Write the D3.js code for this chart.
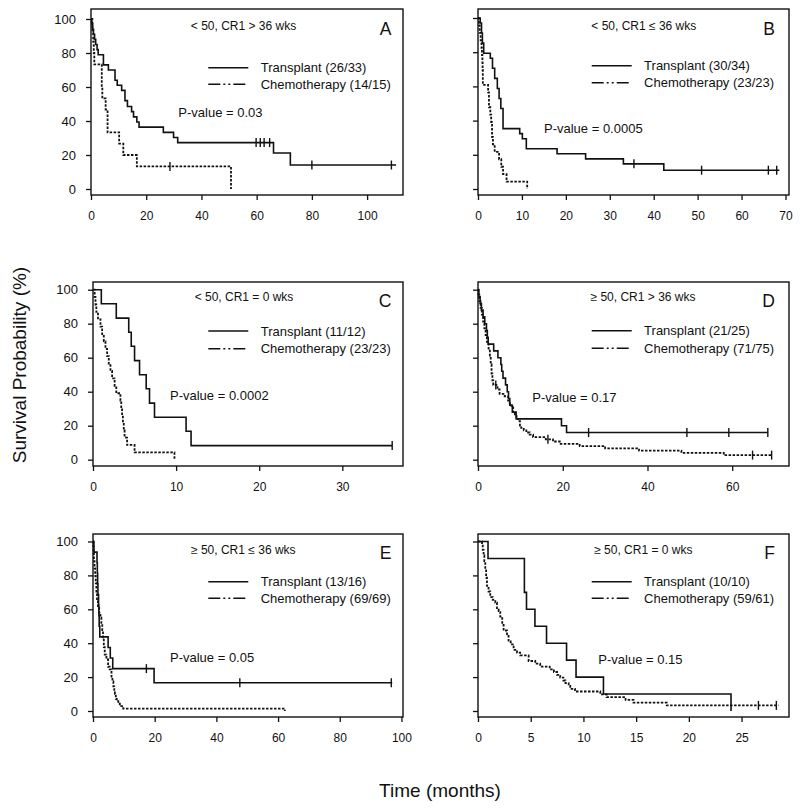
<!DOCTYPE html>
<html><head><meta charset="utf-8">
<script src="https://cdn.jsdelivr.net/npm/d3@7"></script>
<style>body{margin:0;background:#fff}svg{display:block}text{font-family:"Liberation Sans",Arial,sans-serif;fill:#111}</style>
</head><body><svg id="c" width="800" height="809"></svg>
<script>
// ---------- DATA (time in months, survival %) ----------
const panelIds = ["A","B","C","D","E","F"];
const panelTitles = ["< 50, CR1 > 36 wks","< 50, CR1 ≤ 36 wks","< 50, CR1 = 0 wks","≥ 50, CR1 > 36 wks","≥ 50, CR1 ≤ 36 wks","≥ 50, CR1 = 0 wks"];
const transplantLabels = ["Transplant (26/33)","Transplant (30/34)","Transplant (11/12)","Transplant (21/25)","Transplant (13/16)","Transplant (10/10)"];
const chemoLabels = ["Chemotherapy (14/15)","Chemotherapy (23/23)","Chemotherapy (23/23)","Chemotherapy (71/75)","Chemotherapy (69/69)","Chemotherapy (59/61)"];
const pValues = ["P-value = 0.03","P-value = 0.0005","P-value = 0.0002","P-value = 0.17","P-value = 0.05","P-value = 0.15"];
const xTicksA = [0,20,40,60,80,100], xTicksB = [0,10,20,30,40,50,60,70], xTicksC = [0,10,20,30];
const xTicksD = [0,20,40,60], xTicksE = [0,20,40,60,80,100], xTicksF = [0,5,10,15,20,25];
const yTicks = [0,20,40,60,80,100];

const transA = [[0,100],[0.3,97],[0.6,94],[0.9,91],[1.3,88],[1.7,85],[2.2,82],[2.6,79],[4.5,73],[6.3,70],[8.7,64],[9.5,61],[11.1,58],[12.3,52],[13.2,48.5],[14.7,45.5],[15.4,42.4],[16.6,39.4],[17.4,36.4],[26.2,33.3],[29.9,30.3],[31.4,27.3],[66.1,21.2],[72.2,14.1],[110.5,14.1]];
const transACens = [59.8,61.3,62.7,64.7,80,108.8];
const chemoA = [[0,100],[0.5,93.3],[0.8,86.7],[1.0,80],[1.2,73.3],[3.9,60],[4.1,53.3],[5.3,46.7],[6.0,33.3],[10.2,26.7],[11.7,20],[16.6,13.3],[50.7,0]];
const chemoACens = [28.6];

const transB = [[0,100],[0.5,97.1],[0.8,91.2],[1.0,85.3],[1.3,79.4],[2.8,76.5],[3.3,70.6],[3.8,64.7],[4.4,58.8],[4.8,52.9],[5.2,47.1],[5.7,35.3],[9.5,32.4],[10.1,29.4],[11.0,23.5],[18.0,20.6],[24.5,17.6],[33.1,14.7],[42.3,11.0],[68.6,11.0]];
const transBCens = [35.5,50.9,66.1,68.0];
const chemoB = [[0,100],[0.2,95.7],[0.4,91.3],[0.6,87],[0.8,82.6],[0.9,78.3],[1.0,73.9],[1.05,69.6],[1.1,60.9],[2.3,56.5],[2.5,47.8],[2.8,43.5],[3.0,39.1],[3.2,30.4],[3.4,26.1],[3.8,21.7],[4.8,17.4],[5.3,13],[5.7,8.7],[6.5,4.3],[11.2,0]];
const chemoBCens = [];

const transC = [[0,100],[1.0,91.7],[2.8,83.3],[4.3,75],[4.6,66.7],[5.0,58.3],[5.6,50],[6.4,41.7],[6.8,33.3],[7.4,25],[11.2,16.7],[11.8,8.3],[36,8.3]];
const transCCens = [36];
const chemoC = [[0,100],[0.2,95.7],[0.3,91.3],[0.4,87],[0.6,82.6],[0.9,78.3],[1.1,73.9],[1.3,69.6],[1.5,65.2],[1.7,60.9],[1.9,56.5],[2.1,52.2],[2.3,47.8],[2.6,43.5],[2.8,39.1],[3.3,34.8],[3.4,30.4],[3.5,26.1],[3.6,21.7],[3.7,17.4],[3.8,13],[4.1,8.7],[5.0,4.3],[9.8,0]];
const chemoCCens = [];

const transD = [[0,100],[0.2,96],[0.5,92],[0.8,88],[1.2,84],[1.6,80],[2.0,76],[2.2,72],[2.4,68],[3.7,64],[4.7,60],[5.4,56],[5.6,52],[5.9,48],[6.5,44],[6.9,40],[7.2,36],[7.5,32],[8.1,28],[9.0,24],[19.7,20],[20.9,16],[68.4,16]];
const transDCens = [26.1,49.3,59.2,68.4];
const chemoD = [[0,100],[0.1,97.3],[0.3,93.3],[0.6,89.3],[0.9,85.3],[1.2,81.3],[1.5,77.3],[1.8,73.3],[2.1,69.3],[2.5,65.3],[2.8,61.3],[3.0,56],[3.2,50.7],[3.4,46.7],[3.6,44],[4.6,41.3],[5.1,38.7],[6.3,37.3],[7.1,34.7],[7.5,32],[7.9,30.7],[8.3,28],[8.7,26.7],[9.1,24],[9.5,22.7],[9.9,20],[10.2,18.7],[10.8,17.3],[11.4,16],[12.2,14.7],[13.0,13.3],[16.0,12],[17.7,10.7],[19.3,9.3],[24,8.0],[30,6.7],[38,5.3],[48,4.0],[58,2.7],[69.3,2.7]];
const chemoDCens = [4.2,16.5,64.8,69.3];

const transE = [[0,100],[0.3,93.75],[1.3,87.5],[1.4,81.25],[1.5,75],[1.6,68.75],[1.8,62.5],[1.9,56.25],[2.0,50],[2.2,43.75],[4.9,37.5],[5.6,31.25],[6.4,25],[19.8,16.7],[97,16.7]];
const transECens = [17.3,47.6,96.7];
const chemoE = [[0,100],[0.1,97.1],[0.2,92.8],[0.3,88.4],[0.5,84.1],[0.7,79.7],[0.9,75.4],[1.1,69.6],[1.3,65.2],[1.6,60.9],[2.0,58.0],[2.4,55.1],[2.7,50.7],[3.0,47.8],[3.25,43.5],[3.5,37.7],[3.8,33.3],[4.35,30.4],[4.9,26.1],[5.4,24.6],[6.0,20.3],[6.3,17.4],[6.6,14.5],[6.9,11.6],[7.1,10.1],[7.4,7.2],[7.7,5.8],[8.2,4.3],[8.7,2.9],[9.8,1.45],[62.2,0]];
const chemoECens = [];

const transF = [[0,100],[0.95,90],[4.4,70],[4.6,60],[5.4,50],[6.5,40],[8.4,30],[9.3,20],[11.9,10],[24.0,0]];
const transFCens = [];
const chemoF = [[0,100],[0.38,98.4],[0.45,95.1],[0.53,91.8],[0.6,88.5],[0.69,83.6],[0.77,78.7],[0.85,73.8],[1.0,70.5],[1.16,67.2],[1.4,65.6],[1.64,63.9],[1.8,60.7],[1.96,59.0],[2.11,55.7],[2.3,50.8],[2.43,47.5],[2.75,44.3],[2.9,41.0],[3.1,39.3],[3.38,36.1],[3.7,34.4],[4.0,32.8],[4.8,29.5],[5.43,27.9],[5.9,26.2],[6.8,24.6],[7.2,23.0],[7.5,21.3],[7.8,19.7],[8.1,18.0],[8.3,16.4],[8.6,14.8],[8.75,13.1],[9.2,11.5],[11.6,9.8],[12.2,8.2],[14.0,6.6],[14.75,4.9],[17.9,3.3],[28.5,3.3]];
const chemoFCens = [26.6,28.3];

const xMax = [113, 70.8, 37.3, 73.4, 100.5, 29.5];
const xTickSets = [xTicksA, xTicksB, xTicksC, xTicksD, xTicksE, xTicksF];
const transSeries = [transA, transB, transC, transD, transE, transF];
const transCensors = [transACens, transBCens, transCCens, transDCens, transECens, transFCens];
const chemoSeries = [chemoA, chemoB, chemoC, chemoD, chemoE, chemoF];
const chemoCensors = [chemoACens, chemoBCens, chemoCCens, chemoDCens, chemoECens, chemoFCens];

// ---------- LAYOUT ----------
const layout = [
  {x0:91,  x1:403, top:9,   bottom:195, y0:189,   y100:19,  labels:true,  tx:243.5, ty:29.5,  lx:208.3, ly:[67.7,84.3],  px:178.3, py:116.8, lt:35},
  {x0:478, x1:789, top:9,   bottom:195, y0:189,   y100:18,  labels:false, tx:643.8, ty:29.5,  lx:591.7, ly:[65.7,82.7],  px:544,   py:132.8, lt:35},
  {x0:93,  x1:403, top:282, bottom:466, y0:459.7, y100:289.7,labels:true, tx:244,   ty:301,   lx:208.3, ly:[331,348.7],  px:170,   py:400.2, lt:306.7},
  {x0:478, x1:789, top:282, bottom:466, y0:459.7, y100:289.7,labels:false,tx:643,   ty:301,   lx:591.7, ly:[330.7,348.3],px:532.3, py:401.8, lt:306.7},
  {x0:93,  x1:403, top:534, bottom:717, y0:711,   y100:541.5,labels:true, tx:243.3, ty:553.5, lx:208.3, ly:[581.7,598.3],px:170,   py:661.8, lt:559.3},
  {x0:478, x1:789, top:534, bottom:717, y0:711,   y100:541.5,labels:false,tx:643.3, ty:553.5, lx:591.7, ly:[581.7,598.3],px:598.3, py:663.5, lt:559.3}
];

const svg = d3.select("#c");

function levelAt(series, t){
  let v = series[0][1];
  for (const d of series){ if (d[0] <= t) v = d[1]; else break; }
  return v;
}

panelIds.forEach((id, i) => {
  const L = layout[i];
  const g = svg.append("g");
  const x = d3.scaleLinear().domain([0, xMax[i]]).range([L.x0, L.x1]);
  const y = d3.scaleLinear().domain([0, 100]).range([L.y0, L.y100]);

  // frame
  g.append("rect").attr("x", L.x0).attr("y", L.top).attr("width", L.x1 - L.x0).attr("height", L.bottom - L.top)
    .attr("fill", "none").attr("stroke", "#111").attr("stroke-width", 1.4);

  // y axis
  const ya = d3.axisLeft(y).tickValues(yTicks).tickSize(5).tickPadding(10).tickSizeOuter(0);
  if (!L.labels) ya.tickFormat("");
  const yg = g.append("g").attr("transform", `translate(${L.x0},0)`).call(ya);
  yg.select(".domain").remove();
  yg.selectAll("line").attr("stroke", "#111").attr("stroke-width", 1.3);
  yg.selectAll("text").attr("font-size", 13).attr("font-family", '"Liberation Sans",Arial,sans-serif').attr("fill", "#111");

  // x axis
  const xa = d3.axisBottom(x).tickValues(xTickSets[i]).tickSize(5).tickPadding(11).tickSizeOuter(0);
  const xg = g.append("g").attr("transform", `translate(0,${L.bottom})`).call(xa);
  xg.select(".domain").remove();
  xg.selectAll("line").attr("stroke", "#111").attr("stroke-width", 1.3);
  xg.selectAll("text").attr("font-size", 12).attr("font-family", '"Liberation Sans",Arial,sans-serif').attr("fill", "#111");

  const line = d3.line().x(d => x(d[0])).y(d => y(d[1])).curve(d3.curveStepAfter);

  // chemotherapy curve
  g.append("path").attr("d", line(chemoSeries[i])).attr("fill", "none").attr("stroke", "#111")
    .attr("stroke-width", 1.8).attr("stroke-dasharray", "2.5,1.5");
  // transplant curve
  g.append("path").attr("d", line(transSeries[i])).attr("fill", "none").attr("stroke", "#111")
    .attr("stroke-width", 1.6);

  // censor marks
  const marks = [];
  transCensors[i].forEach(t => marks.push([t, levelAt(transSeries[i], t)]));
  chemoCensors[i].forEach(t => marks.push([t, levelAt(chemoSeries[i], t)]));
  g.selectAll(null).data(marks).enter().append("line")
    .attr("x1", d => x(d[0])).attr("x2", d => x(d[0]))
    .attr("y1", d => y(d[1]) - 4.5).attr("y2", d => y(d[1]) + 4.5)
    .attr("stroke", "#111").attr("stroke-width", 1.4);

  // title
  g.append("text").attr("x", L.tx).attr("y", L.ty).attr("text-anchor", "middle").attr("font-size", 12).text(panelTitles[i]);
  // panel letter
  g.append("text").attr("x", i % 2 === 0 ? 391.5 : 775).attr("y", L.lt).attr("text-anchor", "end").attr("font-size", 17.5).text(id);

  // legend
  g.append("line").attr("x1", L.lx).attr("x2", L.lx + 40).attr("y1", L.ly[0]).attr("y2", L.ly[0])
    .attr("stroke", "#111").attr("stroke-width", 1.6);
  g.append("line").attr("x1", L.lx).attr("x2", L.lx + 40).attr("y1", L.ly[1]).attr("y2", L.ly[1])
    .attr("stroke", "#111").attr("stroke-width", 1.6).attr("stroke-dasharray", "12,3,2,3,2,3");
  g.append("text").attr("x", L.lx + 52.4).attr("y", L.ly[0] + 4.6).attr("font-size", 13).text(transplantLabels[i]);
  g.append("text").attr("x", L.lx + 52.4).attr("y", L.ly[1] + 4.6).attr("font-size", 13).text(chemoLabels[i]);

  // p-value
  g.append("text").attr("x", L.px).attr("y", L.py).attr("font-size", 13).text(pValues[i]);
});

// shared axis titles
svg.append("text").attr("transform", "translate(26,365) rotate(-90)").attr("text-anchor", "middle")
  .attr("font-size", 19).text("Survival Probability (%)");
svg.append("text").attr("x", 440).attr("y", 797).attr("text-anchor", "middle")
  .attr("font-size", 19).text("Time (months)");
</script></body></html>
